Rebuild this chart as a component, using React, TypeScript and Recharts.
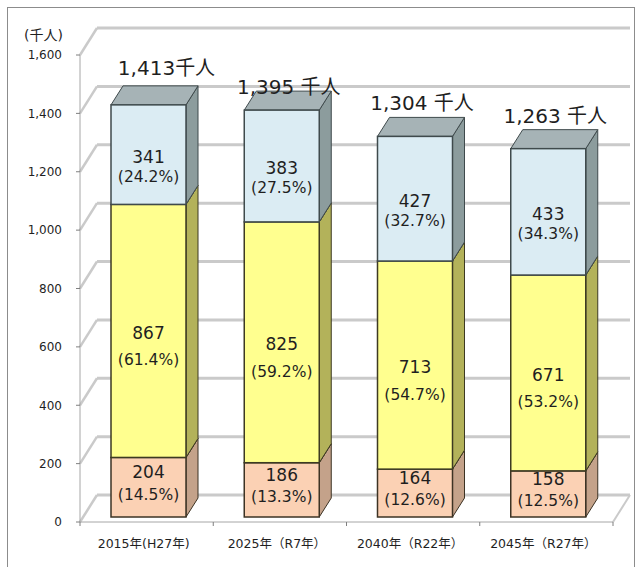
import { BarChart, Bar, XAxis, YAxis, CartesianGrid } from "recharts";

// 年齢3区分別人口の推移（積み上げ・3D風）
const categories = ["2015年(H27年)", "2025年（R7年）", "2040年（R22年）", "2045年（R27年）"];
const under15 = [204, 186, 164, 158];
const age15to64 = [867, 825, 713, 671];
const over65 = [341, 383, 427, 433];
const under15Pct = ["14.5%", "13.3%", "12.6%", "12.5%"];
const age15to64Pct = ["61.4%", "59.2%", "54.7%", "53.2%"];
const over65Pct = ["24.2%", "27.5%", "32.7%", "34.3%"];
const totals = [1413, 1395, 1304, 1263];
const totalSep = ["", " ", " ", " "];
const yTicks = [0, 200, 400, 600, 800, 1000, 1200, 1400, 1600];

const data = categories.map((name, i) => ({
  name,
  young: under15[i],
  work: age15to64[i],
  old: over65[i],
}));

const FONT = "'DejaVu Sans', 'Noto Sans CJK JP', sans-serif";
const INK = "#1f1f1f";
const GRID = "#cacaca";
const AXIS = "#a6a6a6";

// bar depth and wall depth (px)
const DX = 12;
const DY = -19;
const WX = 17;
const WY = -27;
// bars sit a bit behind the front axis plane
const SX = 2;
const SY = -5;

// label nudges for the totals (manual placement in the original)
const totalNudgeX = [11, 0, 0, 0];
const totalNudgeY = [-4, 10, 0, 0];

const fmt = (v: number) => v.toLocaleString("en-US");

type Look = {
  face: string;
  side: string;
  top: string;
  stroke: string;
  pct: string[];
  numDy: number;
  pctDy: number;
  showTotal?: boolean;
};

function makeShape(look: Look) {
  return (p: any) => {
    const x = p.x + SX;
    const y = p.y + SY;
    const w = p.width;
    const h = p.height;
    const i = p.index;
    const cx = x + w / 2;
    const mid = y + h / 2;
    const value = p.value != null ? (Array.isArray(p.value) ? p.value[1] - p.value[0] : p.value) : 0;
    return (
      <g>
        <path d={`M${x + w},${y}l${DX},${DY}v${h}l${-DX},${-DY}Z`} fill={look.side} stroke={look.stroke} strokeWidth={1} />
        <path d={`M${x},${y}l${DX},${DY}h${w}l${-DX},${-DY}Z`} fill={look.top} stroke={look.stroke} strokeWidth={1} />
        <rect x={x} y={y} width={w} height={h} fill={look.face} stroke={look.stroke} strokeWidth={1.5} />
        <text x={cx} y={mid + look.numDy} dy="0.35em" textAnchor="middle" fontFamily={FONT} fontSize={17} fill={INK}>
          {fmt(value)}
        </text>
        <text x={cx} y={mid + look.pctDy} dy="0.35em" textAnchor="middle" fontFamily={FONT} fontSize={15.5} fill={INK}>
          ({look.pct[i]})
        </text>
        {look.showTotal && (
          <text
            x={cx + DX / 2 + 1 + totalNudgeX[i]}
            y={y - 26 + totalNudgeY[i]}
            textAnchor="middle"
            fontFamily={FONT}
            fontSize={20}
            fill={INK}
          >
            {fmt(totals[i])}
            {totalSep[i]}千人
          </text>
        )}
      </g>
    );
  };
}

const youngShape = makeShape({
  face: "#fbd1b4",
  side: "#c4a28a",
  top: "#e3b89a",
  stroke: "#3d3324",
  pct: under15Pct,
  numDy: -15,
  pctDy: 7,
});
const workShape = makeShape({
  face: "#ffff8f",
  side: "#b3b25a",
  top: "#d9d870",
  stroke: "#3d3a22",
  pct: age15to64Pct,
  numDy: 2,
  pctDy: 29,
});
const oldShape = makeShape({
  face: "#dbecf3",
  side: "#8c9c9d",
  top: "#a6b3b6",
  stroke: "#3f4a4c",
  pct: over65Pct,
  numDy: 2,
  pctDy: 22,
  showTotal: true,
});

// back wall + left wall lines, drawn off each grid line
const WallLine = (p: any) => {
  const { x1, y1, x2 } = p;
  const bottom = (p.y ?? 0) + (p.height ?? 0);
  const isFloor = p.height != null && Math.abs(y1 - bottom) < 1;
  return (
    <g key={p.key}>
      <line x1={x1} y1={y1} x2={x1 + WX} y2={y1 + WY} stroke={GRID} strokeWidth={2.5} />
      <line x1={x1 + WX} y1={y1 + WY} x2={x2 + WX} y2={y1 + WY} stroke={GRID} strokeWidth={3} />
      {isFloor && <line x1={x2} y1={y1} x2={x2 + WX} y2={y1 + WY} stroke={GRID} strokeWidth={2} />}
    </g>
  );
};

const XTick = (p: any) => {
  const { x, y, payload, index } = p;
  const off = payload?.offset ?? 66.7;
  return (
    <g>
      <line x1={x - off} x2={x - off} y1={y} y2={y + 4} stroke="#7f7f7f" />
      {index === categories.length - 1 && <line x1={x + off} x2={x + off} y1={y} y2={y + 4} stroke="#7f7f7f" />}
      <text x={x - 3} y={y + 26} textAnchor="middle" fontFamily={FONT} fontSize={12.5} fill={INK}>
        {payload.value}
      </text>
    </g>
  );
};

export default function App() {
  return (
    <div style={{ position: "absolute", left: 0, top: 0, width: 637, height: 567, overflow: "hidden", background: "#fff" }}>
      <div
        style={{
          position: "absolute",
          left: 7,
          top: 7,
          width: 626,
          height: 600,
          border: "1px solid #8c8c8c",
        }}
      />
      <div style={{ position: "absolute", left: 0, top: 0 }}>
        <BarChart width={637} height={567} data={data} margin={{ top: 55, right: 24, bottom: 0, left: 0 }}>
          <CartesianGrid vertical={false} horizontal={WallLine} />
          <XAxis
            dataKey="name"
            height={45}
            tickSize={0}
            tickMargin={0}
            interval={0}
            axisLine={{ stroke: AXIS }}
            tick={XTick}
          />
          <YAxis
            width={80}
            domain={[0, 1600]}
            ticks={yTicks}
            tickFormatter={(v: number) => fmt(v)}
            tick={{ fill: INK, fontSize: 12, fontFamily: FONT }}
            tickSize={4}
            tickMargin={14}
            tickLine={{ stroke: "#7f7f7f" }}
            axisLine={{ stroke: AXIS }}
          />
          <Bar dataKey="young" stackId="a" barSize={75} shape={youngShape} isAnimationActive={false} />
          <Bar dataKey="work" stackId="a" barSize={75} shape={workShape} isAnimationActive={false} />
          <Bar dataKey="old" stackId="a" barSize={75} shape={oldShape} isAnimationActive={false} />
        </BarChart>
      </div>
      <div
        style={{
          position: "absolute",
          left: 24,
          top: 25,
          fontFamily: FONT,
          fontSize: 14,
          color: INK,
          lineHeight: "20px",
        }}
      >
        (千人)
      </div>
    </div>
  );
}
